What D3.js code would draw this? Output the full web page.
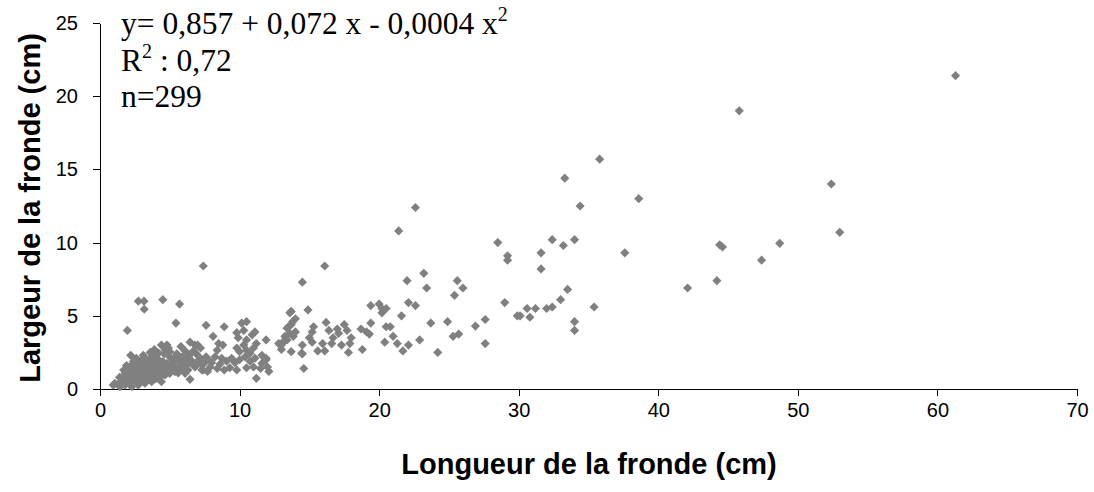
<!DOCTYPE html>
<html>
<head>
<meta charset="utf-8">
<script src="https://cdn.jsdelivr.net/npm/d3@7"></script>
<style>
  html, body { margin: 0; padding: 0; background: #fff; }
  svg { display: block; }
</style>
</head>
<body>
<svg id="chart" width="1094" height="492"></svg>
<script>
// Frond length (cm) and frond width (cm), aligned point by point
const frondLength = [
  61.3,45.8,52.4,53.0,35.8,33.3,34.4,38.6,32.4,33.2,34.0,31.6,31.6,37.6,44.4,44.6,48.7,47.4,44.2,42.1,33.5,33.0,32.4,32.0,31.2,30.6,30.8,30.1,35.4,34.0,34.0,
  22.6,21.4,16.1,14.5,28.5,29.2,29.2,23.2,22.0,23.4,25.6,26.0,25.4,29.0,22.1,22.6,21.6,23.7,24.9,26.9,27.6,27.6,25.3,25.7,24.2,22.9,22.1,21.7,21.3,21.0,20.4,20.5,20.8,
  19.4,20.0,20.2,20.5,20.2,19.4,18.7,19.1,19.3,18.8,17.8,17.9,18.0,17.5,17.7,17.3,17.0,17.1,16.7,16.4,16.6,16.2,15.95,16.1,15.6,15.3,15.2,15.0,15.2,14.9,14.5,14.5,14.6,13.7,13.7,13.5,13.8,13.6,14.0,13.3,13.0,13.85,14.0,13.7,13.25,13.1,12.8,14.45,29.9,
  7.4,13.4,13.6,13.4,13.0,12.1,11.2,11.9,11.6,11.9,7.6,8.9,9.8,10.15,10.5,10.3,9.9,10.5,10.9,11.1,9.8,10.3,10.5,11.0,8.1,8.5,8.4,6.45,6.8,7.2,11.2,8.8,7.0,10.0,10.75,12.0,6.45,
  7.76,8.24,8.72,9.07,9.43,9.67,10.0,10.4,10.75,11.1,11.6,11.9,8.4,8.9,9.3,9.8,10.5,11.0,11.5,7.9,6.9,7.2,7.5,6.9,7.3,7.7,6.6,
  1.96,2.75,3.15,3.17,4.5,5.7,5.44,4.8,4.66,5.0,3.94,3.58,4.2,3.8,4.5,4.8,5.1,5.6,5.85,6.2,6.8,7.3,7.4,2.4,2.27,2.74,3.1,3.2,3.46,
  2.03,1.79,2.15,2.5,2.87,3.22,3.7,4.06,4.42,4.66,5.0,5.37,5.73,6.1,1.07,1.43,1.79,2.27,2.74,3.22,3.7,4.4,1.6,2.0,2.4,3.0,2.6,4.0,4.6,4.9,0.95,
  1.5,1.8,2.1,2.3,2.6,2.9,3.1,3.3,3.5,3.6,3.9,4.1,4.3,4.5,4.7,4.9,5.2,5.4,5.6,5.8,6.0,6.3,6.5,2.2,2.5,2.8,3.0,3.4,3.7,4.0,4.3,4.6,3.3,3.6,3.9,4.2,4.4,3.1,2.9,2.6,2.2,1.9,1.7,1.4,1.3,5.0,5.3,5.5,5.9,6.1,6.4,6.7,5.2,4.0,3.5,2.8,5.8,6.2,7.0,7.6,8.0,8.6
];
const frondWidth = [
  21.4,19.0,14.0,10.7,15.7,14.4,12.5,13.0,10.2,9.8,10.2,9.3,8.2,9.3,9.85,9.7,9.95,8.8,7.4,6.9,6.8,6.1,5.6,5.5,5.5,5.5,4.9,5.0,5.6,4.6,4.0,
  12.4,10.8,8.4,7.3,10.0,9.1,8.8,7.9,7.4,6.9,7.4,6.9,6.4,5.9,5.9,5.7,5.0,4.5,4.6,4.3,4.75,3.1,3.6,3.75,2.5,3.35,3.0,2.6,3.1,3.6,3.2,4.25,4.25,
  5.7,5.8,5.5,5.5,5.2,4.5,4.1,3.9,3.75,2.7,2.5,3.1,3.5,4.4,4.0,3.0,4.1,3.8,3.5,4.0,3.1,4.55,3.1,2.6,2.6,4.25,3.9,3.5,3.2,5.4,3.0,2.4,1.4,5.3,2.55,4.25,4.6,3.8,3.9,3.35,3.0,3.6,4.8,4.4,3.6,3.2,3.1,2.45,5.0,
  8.4,4.15,5.2,3.35,2.7,1.2,0.73,2.1,1.75,3.35,4.35,4.25,3.85,4.5,4.6,4.0,3.5,3.35,3.7,3.9,2.8,3.0,2.65,2.8,3.6,3.1,2.65,3.2,3.0,2.8,3.1,3.0,3.0,2.55,2.45,1.5,0.66,
  2.0,2.2,2.1,1.9,2.1,1.8,2.0,2.2,1.9,2.1,2.3,2.0,1.4,1.3,1.45,1.3,1.45,1.5,1.4,1.5,2.4,2.1,1.8,1.6,1.3,1.2,1.9,
  4.0,6.0,6.0,5.45,6.1,5.8,4.5,3.0,2.66,2.55,2.3,2.1,2.0,1.75,1.87,1.75,1.75,1.98,1.75,1.64,1.5,1.64,1.3,1.87,1.64,1.5,1.75,1.4,1.3,
  1.3,1.07,0.96,1.07,0.96,0.84,0.96,0.84,1.07,0.96,1.07,1.18,1.3,1.07,0.39,0.16,0.27,0.16,0.27,0.39,0.5,0.5,0.7,0.7,0.6,0.7,0.85,0.7,2.4,2.8,0.27,
  0.5,0.55,0.45,0.9,0.55,0.45,1.1,0.6,1.15,0.75,1.2,1.3,0.8,1.4,1.25,1.5,1.35,1.55,1.1,1.45,1.6,1.3,1.8,1.2,1.4,1.2,1.55,1.6,1.45,1.6,1.7,1.55,2.0,2.5,2.7,2.45,3.0,2.3,1.9,2.1,2.3,1.6,1.3,0.8,0.3,2.2,2.1,2.4,2.2,2.6,2.3,2.6,1.9,2.1,1.9,1.65,2.9,2.0,1.9,2.2,1.8,1.7
];
const xTicks = [0, 10, 20, 30, 40, 50, 60, 70];
const yTicks = [0, 5, 10, 15, 20, 25];
const xTitle = "Longueur de la fronde (cm)";
const yTitle = "Largeur de la fronde (cm)";
const eqLine1 = "y= 0,857 + 0,072 x - 0,0004 x";
const eqLine2a = "R";
const eqLine2b = " : 0,72";
const eqLine3 = "n=299";

const svg = d3.select("#chart");
const x = d3.scaleLinear().domain([0, 70]).range([100, 1077]);
const y = d3.scaleLinear().domain([0, 25]).range([389, 23]);

const sans = "'Liberation Sans', Arial, sans-serif";
const serif = "'Liberation Serif', 'Times New Roman', serif";

// Y axis
const yAxis = svg.append("g")
  .attr("transform", `translate(${x(0)},0)`)
  .call(d3.axisLeft(y).tickValues(yTicks).tickSize(7).tickSizeOuter(0).tickPadding(15).tickFormat(d3.format("d")));
// X axis
const xAxis = svg.append("g")
  .attr("transform", `translate(0,${y(0)})`)
  .call(d3.axisBottom(x).tickValues(xTicks).tickSize(7).tickSizeOuter(0).tickPadding(7).tickFormat(d3.format("d")));

[xAxis, yAxis].forEach(g => {
  g.selectAll("path.domain").attr("stroke", "#000").attr("stroke-width", 1).attr("shape-rendering", "crispEdges");
  g.selectAll(".tick line").attr("stroke", "#000").attr("shape-rendering", "crispEdges");
  g.selectAll(".tick text").attr("fill", "#000").style("font-family", sans).style("font-size", "20px");
});

// Points
const pts = d3.range(Math.min(frondLength.length, frondWidth.length)).map(i => [frondLength[i], frondWidth[i]]);
const diamond = d3.symbol().type(d3.symbolSquare).size(42);
svg.append("g").selectAll("path")
  .data(pts)
  .join("path")
  .attr("d", diamond)
  .attr("transform", d => `translate(${x(d[0])},${y(d[1])}) rotate(45)`)
  .attr("fill", "#808080");

// Axis titles
svg.append("text")
  .attr("x", 589).attr("y", 474)
  .attr("text-anchor", "middle")
  .style("font-family", sans).style("font-weight", "bold").style("font-size", "29px")
  .text(xTitle);

svg.append("text")
  .attr("transform", "translate(40,208) rotate(-90)")
  .attr("text-anchor", "middle")
  .style("font-family", sans).style("font-weight", "bold").style("font-size", "29px")
  .text(yTitle);

// Equation annotation
const eq = svg.append("g").style("font-family", serif).style("font-size", "31.5px").attr("fill", "#000");
const t1 = eq.append("text").attr("x", 121).attr("y", 34);
t1.append("tspan").text(eqLine1);
t1.append("tspan").attr("dy", -13).style("font-size", "20px").text("2");
const t2 = eq.append("text").attr("x", 121).attr("y", 71);
t2.append("tspan").text(eqLine2a);
t2.append("tspan").attr("dy", -13).style("font-size", "20px").text("2");
t2.append("tspan").attr("dy", 13).text(eqLine2b);
eq.append("text").attr("x", 121).attr("y", 107).text(eqLine3);
</script>
</body>
</html>
